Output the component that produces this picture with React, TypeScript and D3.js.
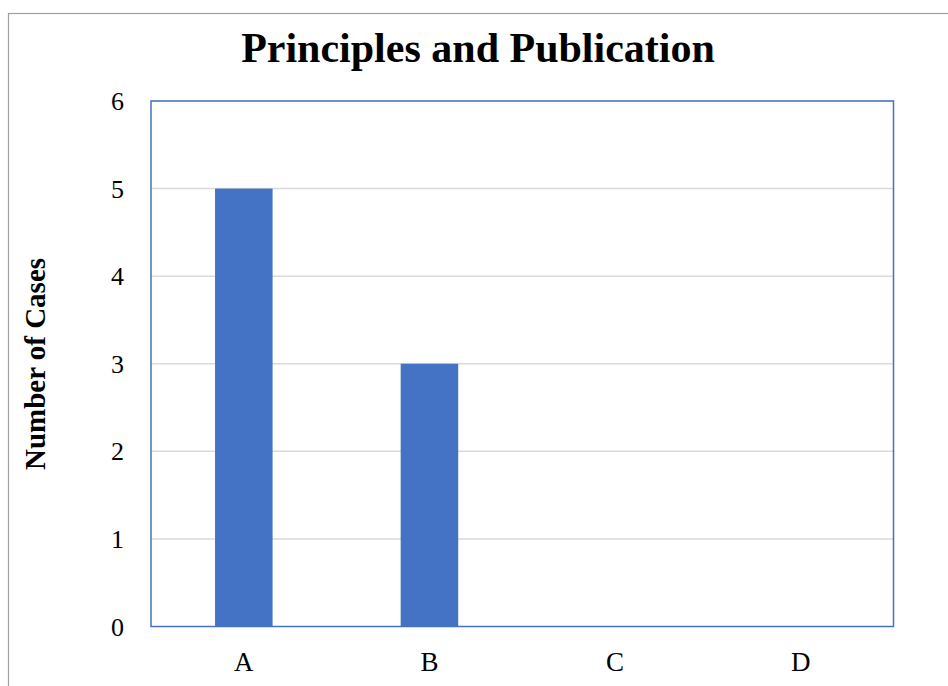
import React from "react";
import * as d3 from "d3";

const categories = ["A", "B", "C", "D"];
const values = [5, 3, 0, 0];
const yTicks = [0, 1, 2, 3, 4, 5, 6];
const title = "Principles and Publication";
const yLabel = "Number of Cases";

export default function App() {
  const W = 948, H = 686;
  const left = 151, right = 893.5, top = 101, bottom = 626.5;
  const x = d3.scaleBand<string>().domain(categories).range([left, right]).padding(0);
  const y = d3.scaleLinear().domain([0, 6]).range([bottom, top]);
  const barW = x.bandwidth() * 0.31;
  const font = "'Liberation Serif', 'DejaVu Serif', serif";
  return (
    <svg width={W} height={H} style={{ position: "absolute", left: 0, top: 0 }} fontFamily={font}>
      <rect x={0} y={0} width={W} height={H} fill="#fff" />
      <rect x={8.5} y={13.5} width={1000} height={800} fill="none" stroke="#a0a0a0" strokeWidth={1.2} />
      <text x={478} y={62} textAnchor="middle" fontWeight="bold" fontSize={42} fill="#000">{title}</text>
      {yTicks.filter(t => t > 0).map(t => (
        <line key={t} x1={left} x2={right} y1={y(t)} y2={y(t)} stroke="#d9d9d9" strokeWidth={1.5} />
      ))}
      {categories.map((c, i) => (
        <rect key={c} x={x(c)! + x.bandwidth() / 2 - barW / 2} y={y(values[i])} width={barW}
          height={bottom - y(values[i])} fill="#4472C4" />
      ))}
      <rect x={left} y={top} width={right - left} height={bottom - top} fill="none" stroke="#4472C4" strokeWidth={1.5} />
      {yTicks.map(t => (
        <text key={t} x={124} y={y(t)} dy="0.35em" textAnchor="end" fontSize={26} fill="#000">{t}</text>
      ))}
      {categories.map(c => (
        <text key={c} x={x(c)! + x.bandwidth() / 2} y={671} textAnchor="middle" fontSize={27} fill="#000">{c}</text>
      ))}
      <text transform={`translate(45,364) rotate(-90)`} textAnchor="middle" fontWeight="bold" fontSize={29} fill="#000">{yLabel}</text>
    </svg>
  );
}
